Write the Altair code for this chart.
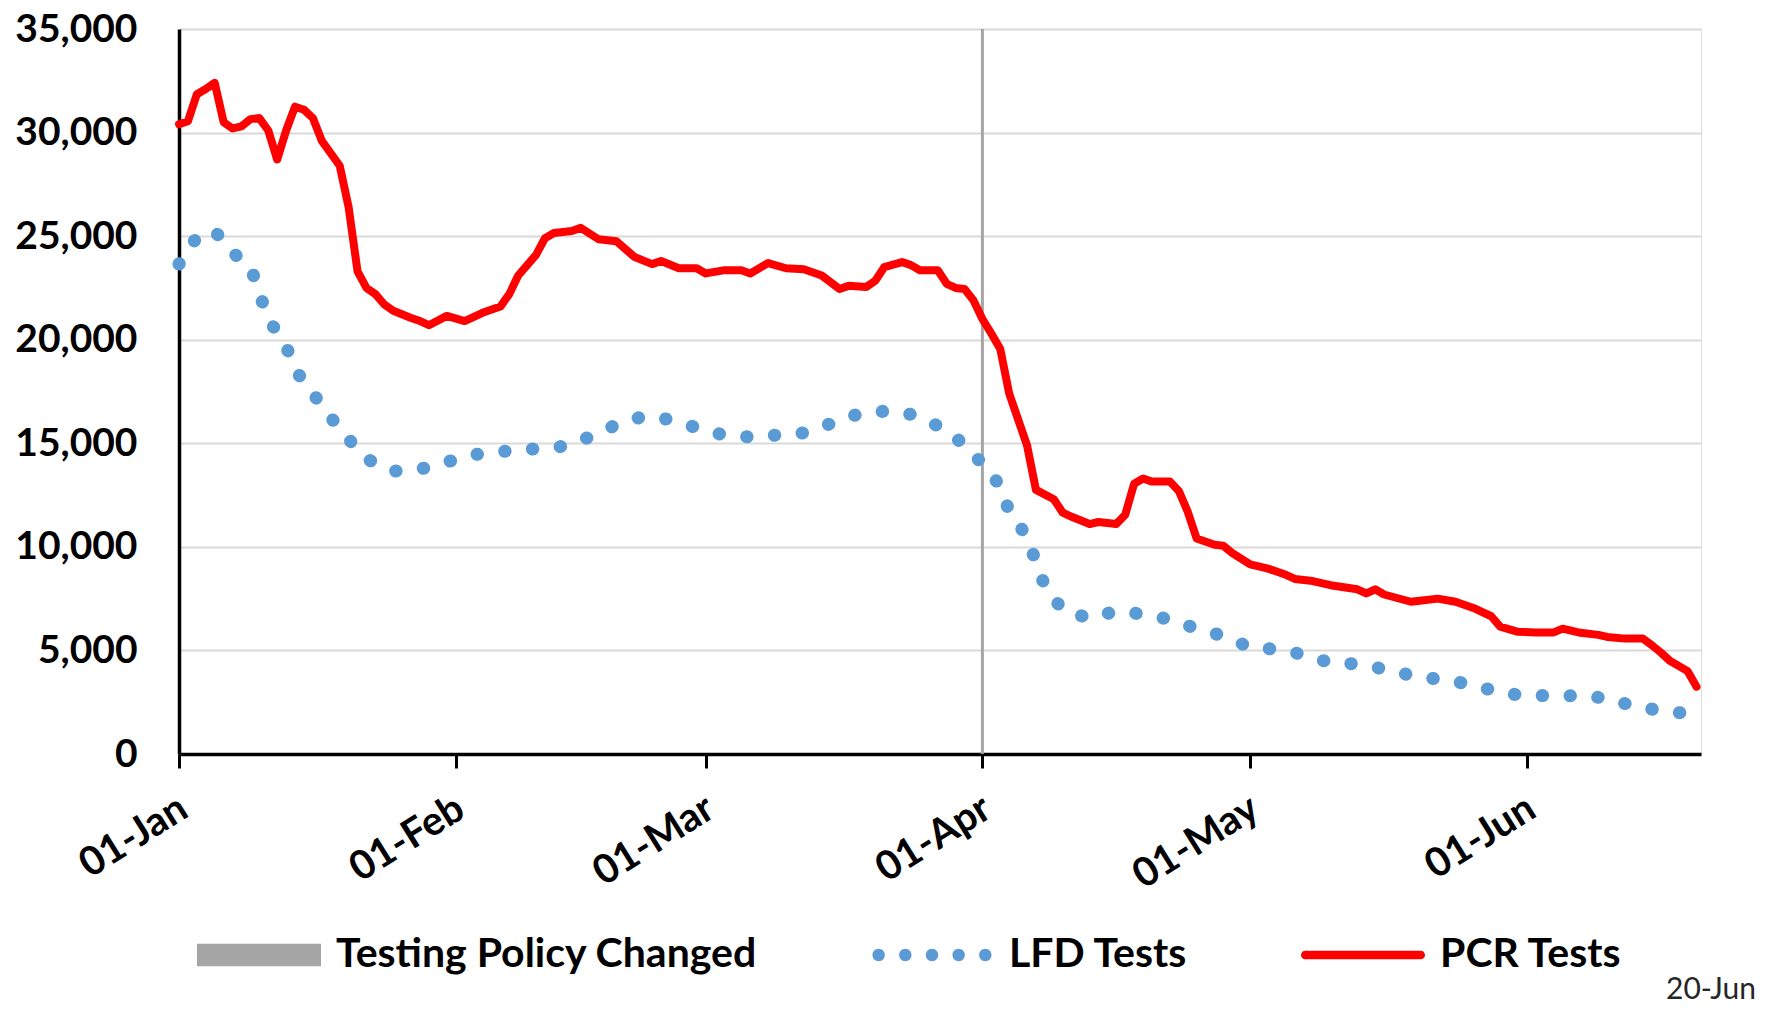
import altair as alt
import pandas as pd

# ---------------- data ----------------
start_date = "2022-01-01"

# days since 01-Jan
pcr_days = [0, 1, 2, 3, 4, 5, 6, 7, 8, 9, 10, 11, 12, 13, 14, 15, 16, 17, 18, 19,
            20, 21, 22, 23, 24, 26, 27, 28, 30, 32, 34, 36, 37, 38, 40, 41, 42, 44, 45, 47,
            49, 51, 53, 54, 56, 58, 59, 61, 63, 64, 66, 68, 70, 72, 74, 75, 77, 78, 79, 81,
            82, 83, 85, 86, 87, 88, 89, 90, 91, 92, 93, 95, 96, 98, 99, 100, 102, 103, 105, 106,
            107, 108, 109, 111, 112, 113, 114, 116, 117, 118, 120, 122, 124, 125, 127, 129, 132, 133, 134, 135,
            138, 139, 141, 143, 145, 147, 148, 150, 152, 154, 155, 157, 159, 160, 162, 164, 165, 166, 167, 169,
            170]
pcr_values = [30400, 30550, 31850, 32100, 32400, 30500, 30200, 30300, 30650, 30700, 30100, 28700, 30100, 31250, 31100, 30700, 29600, 29000, 28400, 26400,
              23300, 22500, 22200, 21700, 21400, 21050, 20900, 20700, 21150, 20900, 21300, 21600, 22200, 23100, 24100, 24900, 25150, 25250, 25400, 24850,
              24750, 24000, 23650, 23800, 23450, 23450, 23200, 23350, 23350, 23200, 23700, 23450, 23400, 23100, 22450, 22600, 22550, 22850, 23500, 23750,
              23600, 23350, 23350, 22700, 22500, 22450, 21900, 21000, 20300, 19550, 17400, 14900, 12750, 12300, 11650, 11450, 11100, 11200, 11100, 11550,
              13050, 13300, 13150, 13150, 12700, 11700, 10400, 10100, 10050, 9700, 9150, 8950, 8650, 8450, 8350, 8150, 7950, 7750, 7950, 7700,
              7350, 7400, 7500, 7350, 7050, 6650, 6150, 5900, 5870, 5870, 6050, 5850, 5750, 5650, 5570, 5570, 5250, 4900, 4500, 4000,
              3250]

lfd_days = [0, 2, 4, 6, 8, 9, 10, 12, 13, 15, 17, 19, 21, 24, 27, 30, 33, 36, 39, 43,
            46, 49, 52, 55, 58, 61, 64, 67, 70, 73, 76, 79, 82, 85, 88, 90, 92, 93, 95, 96,
            97, 99, 102, 105, 108, 111, 114, 117, 120, 123, 126, 129, 132, 135, 138, 142, 145, 148, 151, 154,
            157, 160, 163, 166, 170]
lfd_values = [23650, 24950, 25250, 24200, 23550, 22250, 21000, 19700, 18550, 17400, 16250, 15200, 14250, 13650, 13750, 14100, 14450, 14600, 14700, 14850,
              15300, 15900, 16300, 16150, 15750, 15400, 15300, 15400, 15500, 15950, 16400, 16550, 16400, 15850, 14950, 14000, 12950, 11700, 10500, 9250,
              8100, 6950, 6550, 6900, 6750, 6500, 6050, 5700, 5150, 5050, 4800, 4400, 4350, 4100, 3800, 3550, 3350, 2950, 2820, 2820,
              2800, 2700, 2300, 2100, 1900]

series_names = ["Testing Policy Changed", "LFD Tests", "PCR Tests"]
series_colors = ["#A5A5A5", "#5B9BD5", "#FF0000"]
policy_change_dates = ["2022-04-01T00:00:00"]
tick_months = [1, 2, 3, 4, 5, 6]
y_ticks = [0, 5000, 10000, 15000, 20000, 25000, 30000, 35000]
footnote = "20-Jun"

# ---------------- tables ----------------
t0 = pd.Timestamp(start_date)


def as_date(d):
    return (t0 + pd.Timedelta(days=d)).strftime("%Y-%m-%dT%H:%M:%S")


lfd_df = pd.DataFrame({"date": [as_date(d) for d in lfd_days], "value": lfd_values,
                       "series": "LFD Tests"})
pcr_df = pd.DataFrame({"date": [as_date(d) for d in pcr_days], "value": pcr_values,
                       "series": "PCR Tests"})
rule_df = pd.DataFrame({"date": policy_change_dates})
legend_df = pd.DataFrame({"series": series_names})

FONT = "Lato"


# legend symbol glyphs (unit-square SVG paths): bar, row of dots, rounded line
def _dot(cx, r):
    return f"M{cx - r:.3f},0a{r},{r} 0 1,0 {2 * r:.3f},0a{r},{r} 0 1,0 {-2 * r:.3f},0Z"


bar_glyph = "M-1,-0.18L1,-0.18L1,0.18L-1,0.18Z"
dots_glyph = "".join(_dot(c, 0.1) for c in [-0.86, -0.43, 0.0, 0.43, 0.86])
line_glyph = ("M-0.93,-0.07L0.93,-0.07A0.07,0.07 0 0,1 0.93,0.07"
              "L-0.93,0.07A0.07,0.07 0 0,1 -0.93,-0.07Z")
legend_glyphs = [bar_glyph, dots_glyph, line_glyph]

x_scale = alt.Scale(domain=[alt.DateTime(year=2022, month=1, date=1),
                            alt.DateTime(year=2022, month=6, date=20, hours=12)],
                    nice=False)
y_scale = alt.Scale(domain=[0, 35000], nice=False)

x_axis = alt.Axis(values=[alt.DateTime(year=2022, month=m, date=1) for m in tick_months],
                  format="%d-%b", title=None, grid=False,
                  labelFont=FONT, labelFontSize=40, labelFontWeight="bold", labelColor="black",
                  labelAngle=-32, labelAlign="right", labelBaseline="top",
                  labelPadding=20, labelOffset=-6,
                  domainColor="black", domainWidth=3.5,
                  ticks=True, tickColor="black", tickWidth=3, tickSize=14)
y_axis = alt.Axis(values=y_ticks, format=",.0f", title=None, grid=True,
                  gridColor="#D9D9D9", gridWidth=2,
                  labelFont=FONT, labelFontSize=39, labelFontWeight="bold", labelColor="black",
                  labelPadding=42, ticks=False, tickSize=0,
                  domainColor="black", domainWidth=3.5)

legend = alt.Legend(
    title=None, orient="none", legendX=18, legendY=864, direction="horizontal",
    symbolSize=15376, symbolStrokeWidth=0, symbolOpacity=1, padding=0,
    labelFont=FONT, labelFontSize=41, labelFontWeight="bold", labelColor="black",
    labelOffset=15, columnPadding=112, labelLimit=1000,
)

rule = alt.Chart(rule_df).mark_rule(color="#A5A5A5", strokeWidth=3).encode(
    x=alt.X("date:T", scale=x_scale, axis=x_axis),
)

lfd = alt.Chart(lfd_df).mark_line(color=series_colors[1], strokeWidth=13, strokeCap="round",
                                  strokeDash=[0.5, 27.3], strokeJoin="round").encode(
    x=alt.X("date:T", scale=x_scale, axis=x_axis),
    y=alt.Y("value:Q", scale=y_scale, axis=y_axis),
)

pcr = alt.Chart(pcr_df).mark_line(color=series_colors[2], strokeWidth=8, strokeCap="round",
                                  strokeJoin="round").encode(
    x=alt.X("date:T", scale=x_scale, axis=x_axis),
    y=alt.Y("value:Q", scale=y_scale, axis=y_axis),
)

# legend-only layer: no rows survive the filter, so it draws nothing in the plot
key = alt.Chart(legend_df).transform_filter("false").mark_point(
    filled=True, strokeWidth=0, opacity=1).encode(
    color=alt.Color("series:N", scale=alt.Scale(domain=series_names, range=series_colors),
                    legend=legend),
    shape=alt.Shape("series:N", scale=alt.Scale(domain=series_names, range=legend_glyphs),
                    legend=legend),
)

chart = alt.layer(rule, lfd, pcr, key).properties(
    width=1522, height=725,
    autosize=alt.AutoSizeParams(type="none"),
    padding={"left": 171, "top": 21, "right": 57, "bottom": 250},
    title=alt.TitleParams(footnote, orient="bottom", anchor="end", font=FONT, fontSize=30,
                          fontWeight="normal", color="#262626", dx=53, offset=0, dy=0),
).configure_view(stroke=None).configure(background="white")

chart.save("out.html", embed_options={"renderer": "svg", "actions": False})
